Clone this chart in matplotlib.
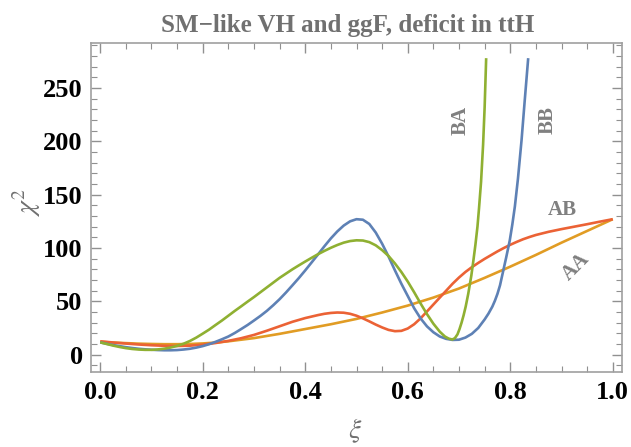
import matplotlib
matplotlib.use("Agg")
import matplotlib.pyplot as plt
from matplotlib.ticker import MultipleLocator

plt.rcParams["mathtext.fontset"] = "stix"

# BB (blue)
bb_x = [0.0, 0.0125, 0.025, 0.0375, 0.05, 0.0625, 0.075, 0.0875, 0.1, 0.1125, 0.125, 0.1375, 0.15,
        0.1625, 0.175, 0.1875, 0.2, 0.2125, 0.225, 0.2375, 0.25, 0.2625, 0.275, 0.2875, 0.3, 0.3125,
        0.325, 0.3375, 0.35, 0.3625, 0.375, 0.3875, 0.4, 0.4125, 0.425, 0.4375, 0.45, 0.4625, 0.475,
        0.4875, 0.5, 0.5125, 0.525, 0.5375, 0.55, 0.5625, 0.575, 0.5875, 0.6, 0.6125, 0.625, 0.6375,
        0.65, 0.6625, 0.675, 0.6875, 0.7, 0.7125, 0.725, 0.7375, 0.75, 0.7575, 0.765, 0.77, 0.775,
        0.78, 0.786, 0.792, 0.799, 0.804, 0.809, 0.815, 0.822, 0.828, 0.835]
bb_y = [11.5, 10.2, 9.0, 8.0, 7.0, 6.2, 5.5, 5.0, 4.6, 4.3, 4.1, 4.1, 4.3,
        4.8, 5.5, 6.6, 8.0, 9.8, 12.0, 14.4, 17.0, 20.3, 24.0, 27.8, 32.0, 36.3,
        41.0, 46.3, 52.0, 58.3, 65.0, 71.8, 79.0, 86.5, 94.0, 101.7, 109.0, 115.5, 121.0,
        125.0, 127.0, 126.5, 122.5, 114.5, 104.0, 92.0, 79.0, 66.5, 55.0, 43.5, 34.0, 26.5,
        21.0, 17.0, 14.8, 13.8, 14.0, 16.0, 19.5, 25.0, 33.0, 38.5, 45.0, 50.5, 57.0,
        65.0, 78.0, 91.0, 107.0, 122.0, 139.0, 165.0, 201.0, 237.0, 278.0]
# BA (green)
ba_x = [0.0, 0.0125, 0.025, 0.0375, 0.05, 0.0625, 0.075, 0.0875, 0.1, 0.1125, 0.125, 0.1375, 0.15,
        0.1625, 0.175, 0.1875, 0.2, 0.2125, 0.225, 0.2375, 0.25, 0.2625, 0.275, 0.2875, 0.3, 0.3125,
        0.325, 0.3375, 0.35, 0.3625, 0.375, 0.3875, 0.4, 0.4125, 0.425, 0.4375, 0.45, 0.4625, 0.475,
        0.4875, 0.5, 0.5125, 0.525, 0.5375, 0.55, 0.5625, 0.575, 0.5875, 0.6, 0.6125, 0.625, 0.6375,
        0.65, 0.6625, 0.6725, 0.68, 0.687, 0.692, 0.697, 0.701, 0.705, 0.709, 0.713, 0.718, 0.724,
        0.728, 0.732, 0.736, 0.739, 0.743, 0.747, 0.75, 0.753]
ba_y = [11.5, 10.0, 8.5, 7.2, 6.1, 5.3, 4.8, 4.5, 4.5, 4.9, 5.6, 6.7, 8.2,
        10.2, 12.8, 16.0, 19.7, 23.5, 27.8, 32.0, 36.5, 41.0, 45.3, 49.7, 54.0, 58.5,
        63.0, 67.5, 72.0, 76.0, 80.0, 83.7, 87.3, 90.8, 94.2, 97.3, 100.2, 102.8, 105.0,
        106.5, 107.2, 107.0, 105.5, 102.5, 98.0, 92.5, 85.5, 77.5, 68.5, 58.5, 48.0, 38.0,
        29.0, 21.5, 17.0, 15.0, 14.2, 15.5, 19.0, 24.0, 30.0, 37.0, 45.0, 57.0, 74.0,
        88.0, 103.0, 120.0, 137.0, 162.0, 197.0, 232.0, 278.0]
# AB (red)
ab_x = [0.0, 0.025, 0.05, 0.075, 0.1, 0.125, 0.15, 0.175, 0.2, 0.225, 0.25, 0.275, 0.3, 0.325,
        0.35, 0.375, 0.4, 0.425, 0.4375, 0.45, 0.4625, 0.475, 0.4875, 0.5, 0.5125, 0.525, 0.5375,
        0.55, 0.5625, 0.575, 0.5875, 0.6, 0.6125, 0.625, 0.6375, 0.65, 0.6625, 0.675, 0.6875, 0.7,
        0.7125, 0.725, 0.7375, 0.75, 0.7625, 0.775, 0.7875, 0.8, 0.8125, 0.825, 0.8375, 0.85, 0.875,
        0.9, 0.925, 0.95, 0.975, 1.0]
ab_y = [12.5, 11.4, 10.4, 9.5, 8.8, 8.3, 8.1, 8.4, 9.4, 10.9, 12.9, 15.4, 18.5, 22.4,
        26.6, 30.8, 34.3, 37.1, 38.3, 39.1, 39.5, 39.3, 38.3, 36.5, 34.0, 31.2, 28.2,
        25.5, 23.2, 22.0, 22.3, 24.5, 28.5, 34.0, 40.5, 47.0, 53.5, 60.0, 66.5, 72.3,
        77.5, 82.0, 86.0, 89.8, 93.3, 96.8, 100.0, 103.0, 105.7, 108.2, 110.3, 112.2, 115.2,
        117.7, 120.0, 122.3, 124.7, 127.0]
# AA (orange)
aa_x = [0.0, 0.025, 0.05, 0.075, 0.1, 0.125, 0.15, 0.175, 0.2, 0.225, 0.25, 0.3, 0.35, 0.4,
        0.45, 0.5, 0.55, 0.6, 0.65, 0.7, 0.75, 0.8, 0.85, 0.9, 0.95, 1.0]
aa_y = [12.0, 11.3, 10.8, 10.3, 10.0, 9.8, 9.8, 10.0, 10.5, 11.3, 12.5, 15.5, 19.5, 24.0,
        28.5, 33.5, 39.5, 46.0, 53.5, 62.0, 72.0, 82.5, 93.5, 105.0, 116.0, 127.0]

title = "SM\u2212like VH and ggF, deficit in ttH"
gray = "#707070"

fig = plt.figure(figsize=(6.31, 4.47), dpi=100)
ax = fig.add_axes([91/631, 1 - 371.7/447, (622-91)/631, (371.7-42.7)/447])

lw = 1.9
ax.plot(aa_x, aa_y, color="#E19C24", lw=lw, solid_capstyle="butt", solid_joinstyle="round")
ax.plot(ab_x, ab_y, color="#EB6235", lw=lw, solid_capstyle="butt", solid_joinstyle="round")
ax.plot(bb_x, bb_y, color="#5E81B5", lw=lw, solid_capstyle="butt", solid_joinstyle="round")
ax.plot(ba_x, ba_y, color="#8FB032", lw=lw, solid_capstyle="butt", solid_joinstyle="round")

ax.set_xlim(-0.018, 1.018)
ax.set_ylim(-16, 292.5)
ax.xaxis.set_major_locator(MultipleLocator(0.2))
ax.xaxis.set_minor_locator(MultipleLocator(0.05))
ax.yaxis.set_major_locator(MultipleLocator(50))
ax.yaxis.set_minor_locator(MultipleLocator(10))
ax.set_xticks([0.0, 0.2, 0.4, 0.6, 0.8, 1.0])
ax.set_xticklabels(["0.0", "0.2", "0.4", "0.6", "0.8", "1.0"])
ax.set_yticks([0, 50, 100, 150, 200, 250])

for s in ax.spines.values():
    s.set_color("#a0a0a0")
    s.set_linewidth(1.2)
ax.tick_params(which="both", direction="in", top=True, right=True, color="#909090")
ax.tick_params(which="major", length=7, width=1.0)
ax.tick_params(which="minor", length=4, width=0.8)
for lab in ax.get_xticklabels() + ax.get_yticklabels():
    lab.set_fontfamily("Liberation Serif")
    lab.set_fontweight("bold")
    lab.set_fontsize(19)
ax.tick_params(axis="x", pad=7)
ax.tick_params(axis="y", pad=6)

fig.text(355/631, 1 - 438/447, r"$\xi$", fontsize=20, color=gray, ha="center", va="baseline")
fig.text(27/631, 1 - 203/447, r"$\chi^2$", fontsize=20, color=gray, ha="center", va="center",
         rotation=90)
fig.text(348/631, 1 - 32/447, title, ha="center", va="baseline", fontsize=18,
         fontweight="bold", family="Liberation Serif", color=gray)

tkw = dict(fontsize=15, fontweight="bold", family="Liberation Serif", color="#808080",
           ha="center", va="center")
ax.text(0.703, 220, "BA", rotation=90, **tkw)
ax.text(0.873, 220, "BB", rotation=90, **tkw)
ax.text(0.902, 136, "AB", **tkw)
ax.text(0.928, 82.5, "AA", rotation=45, **tkw)

fig.savefig("out.png", dpi=100)
